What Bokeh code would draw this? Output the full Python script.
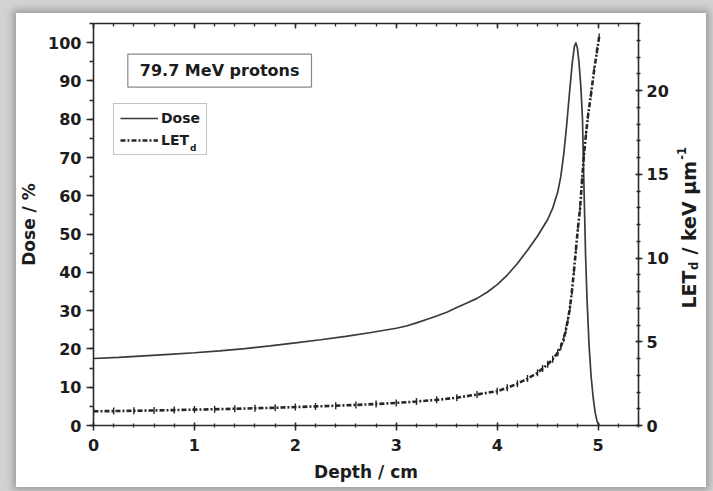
import math
from bokeh.plotting import figure
from bokeh.models import (Range1d, LinearAxis, SingleIntervalTicker, Label, Legend,
                          LegendItem, CustomJSTickFormatter)
from bokeh.layouts import column, row
from bokeh.embed import file_html
from bokeh.resources import INLINE

# ---------------- data ----------------
dose_depth = [0.00, 0.25, 0.50, 0.75, 1.00, 1.25, 1.50, 1.75, 2.00, 2.25, 2.50, 2.75,
              3.00, 3.10, 3.20, 3.30, 3.40, 3.50, 3.60, 3.70, 3.80, 3.90, 4.00, 4.10,
              4.20, 4.30, 4.40, 4.50, 4.55, 4.60, 4.63, 4.66, 4.69, 4.72, 4.745, 4.765,
              4.78, 4.795, 4.81, 4.83, 4.845, 4.86, 4.875, 4.89, 4.91, 4.93, 4.95, 4.97,
              4.99, 5.01]
dose_pct = [17.5, 17.8, 18.2, 18.6, 19.0, 19.5, 20.1, 20.8, 21.6, 22.4, 23.3, 24.3,
            25.4, 26.0, 26.8, 27.7, 28.6, 29.6, 30.8, 32.0, 33.2, 34.8, 36.8, 39.3,
            42.3, 45.8, 49.5, 53.8, 56.8, 61.0, 65.0, 71.0, 79.0, 88.0, 95.0, 99.0,
            100.0, 98.5, 95.0, 88.0, 80.0, 62.0, 45.0, 33.0, 21.0, 13.0, 7.5, 3.5,
            1.0, 0.0]

let_depth = [0.0, 0.2, 0.4, 0.6, 0.8, 1.0, 1.2, 1.4, 1.6, 1.8, 2.0, 2.2, 2.4, 2.6, 2.8,
             3.0, 3.2, 3.4, 3.6, 3.8, 4.0, 4.1, 4.2, 4.3, 4.4, 4.45, 4.5, 4.55, 4.6,
             4.63, 4.66, 4.68, 4.70, 4.72, 4.74, 4.76, 4.78, 4.80, 4.82, 4.84, 4.86,
             4.88, 4.90, 4.93, 4.96, 4.99, 5.01]
let_kev = [0.85, 0.86, 0.88, 0.90, 0.92, 0.95, 0.97, 1.00, 1.03, 1.06, 1.10, 1.14, 1.18,
           1.23, 1.28, 1.35, 1.43, 1.53, 1.66, 1.85, 2.05, 2.25, 2.50, 2.80, 3.15, 3.40,
           3.65, 3.95, 4.35, 4.70, 5.20, 5.70, 6.30, 7.00, 8.00, 9.20, 10.5, 11.8, 12.9,
           14.6, 16.2, 17.4, 18.5, 19.8, 21.2, 22.4, 23.2]

x_limits = (0, 5.4)
dose_limits = (0, 105)
let_limits = (0, 24)

title_text = "79.7 MeV protons"
legend_labels = ["Dose", "LET"]
legend_sub = "d"
x_label = "Depth / cm"
y_label = "Dose / %"
y2_label_parts = ["LET", "d", "\u00a0/ keV \u00b5m", "-1"]

# ---------------- styling ----------------
FONT = "DejaVu Sans"
INK = "#1c1c1c"
AX = "#2a2a2a"

p = figure(width=655, height=474, output_backend="svg", toolbar_location=None,
           x_range=Range1d(*x_limits), y_range=Range1d(*dose_limits),
           min_border_left=77, min_border_right=33, min_border_top=10,
           min_border_bottom=62, background_fill_color="white",
           border_fill_color="white", outline_line_color=None)
p.extra_y_ranges = {"let": Range1d(*let_limits)}
p.xgrid.visible = False
p.ygrid.visible = False

def style_axis(ax, tin, tout, min_in, min_out):
    ax.axis_line_color = AX
    ax.axis_line_width = 1.6
    ax.major_tick_line_color = AX
    ax.minor_tick_line_color = AX
    ax.major_tick_line_width = 1.5
    ax.minor_tick_line_width = 1.3
    ax.major_tick_in = tin
    ax.major_tick_out = tout
    ax.minor_tick_in = min_in
    ax.minor_tick_out = min_out
    ax.major_label_text_font = FONT
    ax.major_label_text_font_style = "bold"
    ax.major_label_text_font_size = "16px"
    ax.major_label_text_color = INK
    ax.axis_label_text_font = FONT
    ax.axis_label_text_font_style = "bold"
    ax.axis_label_text_font_size = "17px"
    ax.axis_label_text_color = INK

xa = p.xaxis[0]
xa.ticker = SingleIntervalTicker(interval=1, num_minor_ticks=5)
style_axis(xa, 3, 5, 2, 2)
xa.axis_label = x_label
xa.major_label_standoff = 8
xa.axis_label_standoff = 8

ya = p.yaxis[0]
ya.ticker = SingleIntervalTicker(interval=10, num_minor_ticks=2)
style_axis(ya, 0, 7, 0, 4)
ya.axis_label = y_label
ya.major_label_standoff = 5
ya.axis_label_standoff = 6

top = LinearAxis(ticker=SingleIntervalTicker(interval=1, num_minor_ticks=5),
                 formatter=CustomJSTickFormatter(code="return ''"))
style_axis(top, 5, 0, 3, 0)
top.major_label_standoff = 0
p.add_layout(top, "above")

right = LinearAxis(y_range_name="let",
                   ticker=SingleIntervalTicker(interval=5, num_minor_ticks=5))
style_axis(right, 3, 4, 2, 2)
right.major_label_standoff = 4
p.add_layout(right, "right")

# ---------------- data glyphs ----------------
r_dose = p.line(dose_depth, dose_pct, line_color="#3a3a3a", line_width=1.7)
r_let = p.line(let_depth, let_kev, y_range_name="let", line_color="#262626",
               line_width=2.6, line_dash="5 2 2 2")
p.scatter(let_depth, let_kev, y_range_name="let", marker="dash", angle=math.pi / 2,
          size=7, line_color="#262626", line_width=1.4)

# ---------------- title box ----------------
p.add_layout(Label(x=0.34, y=92.7, text=title_text, text_font=FONT,
                   text_font_style="bold", text_font_size="16px", text_color=INK,
                   text_baseline="middle", text_align="left",
                   border_line_color="#8a8a8a", border_line_width=1.2,
                   background_fill_color="white",
                   padding=dict(left=12, right=12, top=7, bottom=7)))

# subscript of the legend label (legend box itself is transparent)
p.add_layout(Label(x=0.955, y=72.5, text=legend_sub, text_font=FONT,
                   text_font_style="bold", text_font_size="9px", text_color=INK,
                   text_align="left", text_baseline="middle"))

legend = Legend(items=[LegendItem(label=legend_labels[0], renderers=[r_dose]),
                       LegendItem(label=legend_labels[1], renderers=[r_let])],
                location=(20, 270), orientation="vertical",
                label_text_font=FONT, label_text_font_style="bold",
                label_text_font_size="14px", label_text_color=INK,
                glyph_width=38, glyph_height=16, label_height=16, spacing=6,
                padding=6, margin=0, label_standoff=3,
                border_line_color="#8a8a8a", border_line_width=1.2,
                background_fill_alpha=0.0)
p.add_layout(legend)

# ---------------- right-hand axis title (separate strip, frame aligned with p) ----
q = figure(width=35, height=474, output_backend="svg", toolbar_location=None,
           x_range=Range1d(0, 35), y_range=Range1d(0, 402),
           x_axis_location=None, y_axis_location=None, min_border=0,
           background_fill_color="white", border_fill_color="white",
           outline_line_color=None)
q.xgrid.visible = False
q.ygrid.visible = False

def qlab(**kw):
    base = dict(text_font=FONT, text_font_style="bold", text_color=INK,
                text_align="left", text_baseline="middle", angle=math.pi / 2)
    base.update(kw)
    q.add_layout(Label(**base))

rx, ry = 17, 117
big, small = 19, 11.5
w_let = 2.002 * big
w_d = 0.716 * small
w_mid = 5.289 * big
qlab(x=rx, y=ry, text=y2_label_parts[0], text_font_size=f"{big}px")
qlab(x=rx + 5, y=ry + w_let + 0.5, text=y2_label_parts[1], text_font_size=f"{small}px")
qlab(x=rx, y=ry + w_let + w_d + 1, text=y2_label_parts[2], text_font_size=f"{big}px")
qlab(x=rx - 7, y=ry + w_let + w_d + w_mid + 2, text=y2_label_parts[3],
     text_font_size=f"{small}px")

inner = row(p, q, spacing=0,
            styles={"box-shadow": "0 0 7px 3px #9c9c9c", "background-color": "white"})
inner.margin = (13, 7, 4, 16)
layout = column(inner, styles={"background-color": "#d2d2d2"})

open("out.html", "w").write(file_html(layout, INLINE))
